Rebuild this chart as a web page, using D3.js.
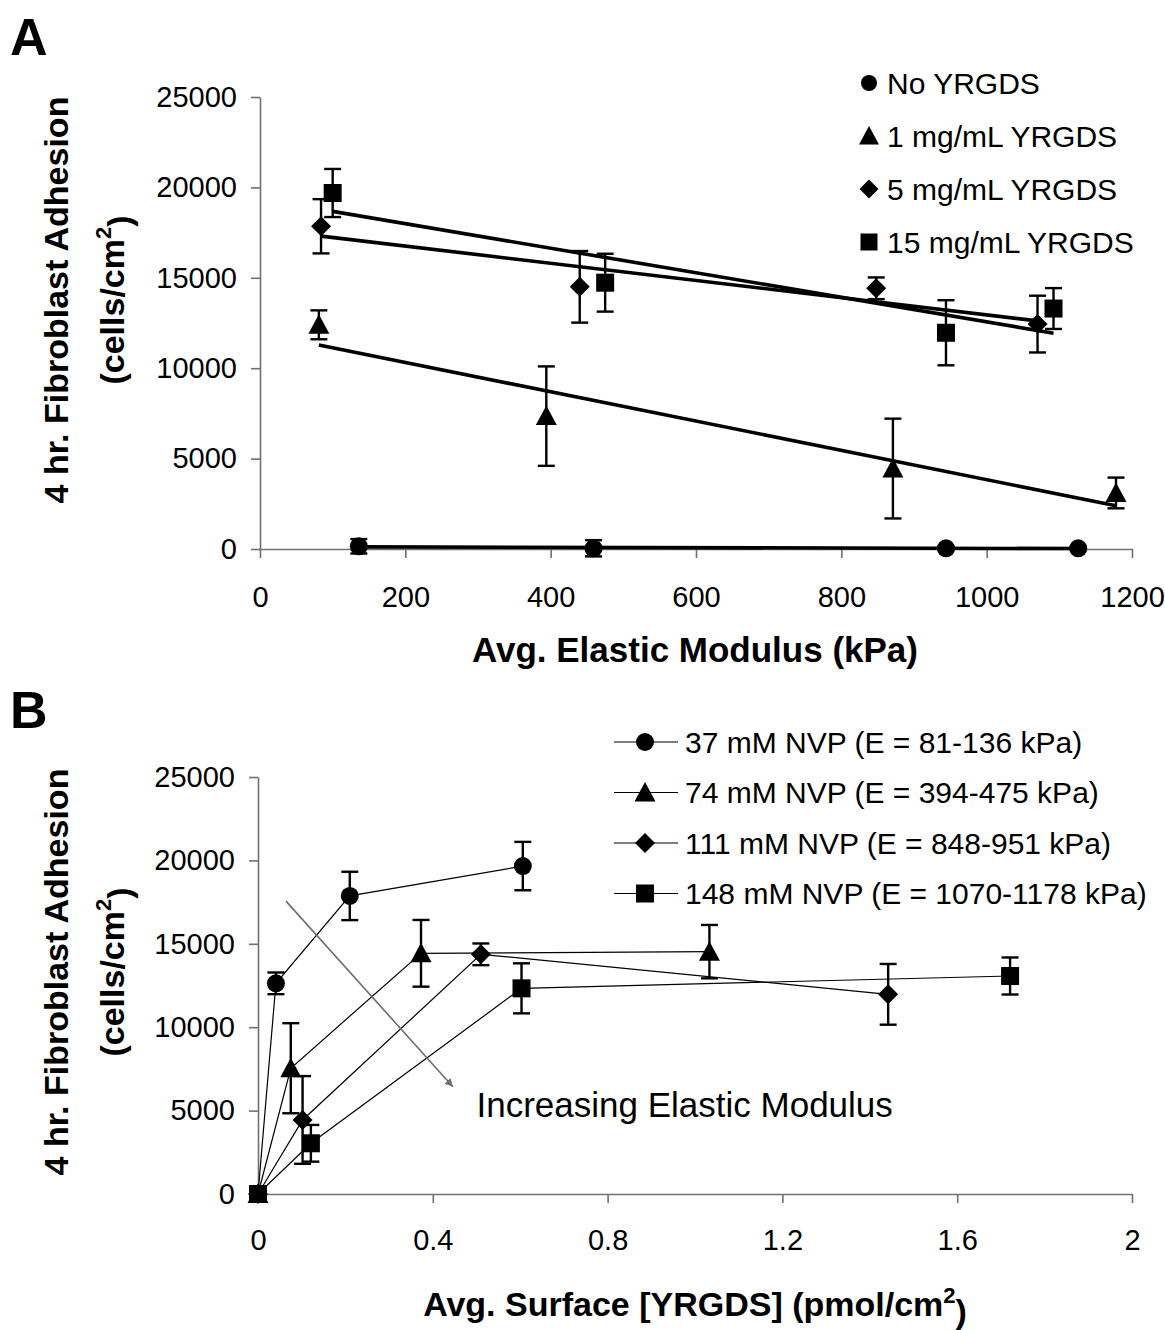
<!DOCTYPE html>
<html>
<head>
<meta charset="utf-8">
<script src="https://cdn.jsdelivr.net/npm/d3@7"></script>
<style>
  html, body { margin: 0; padding: 0; background: #fff; }
  svg { display: block; font-family: "Liberation Sans", Arial, sans-serif; }
</style>
</head>
<body>
<svg id="chart" width="1165" height="1330"></svg>
<script>
// ---------- Panel A data (x: elastic modulus kPa, y: cells/cm2, err: +/-) ----------
const aNames = ["No YRGDS", "1 mg/mL YRGDS", "5 mg/mL YRGDS", "15 mg/mL YRGDS"];
const aSymbols = ["circle", "triangle", "diamond", "square"];
const aCircleX = [136, 459, 944, 1126];
const aCircleY = [150, 40, 40, 40];
const aCircleErr = [400, 450, 100, 100];
const aTriX = [81, 394, 871, 1178];
const aTriY = [12400, 7350, 4450, 3100];
const aTriErr = [800, 2750, 2760, 850];
const aDiaX = [84, 440, 848, 1070];
const aDiaY = [17850, 14500, 14420, 12440];
const aDiaErr = [1500, 1980, 600, 1570];
const aSqX = [100, 475, 944, 1092];
const aSqY = [19690, 14730, 11960, 13300];
const aSqErr = [1330, 1600, 1800, 1130];
const aXTicks = [0, 200, 400, 600, 800, 1000, 1200];
const yTicks = [0, 5000, 10000, 15000, 20000, 25000];

// ---------- Panel B data (x: surface YRGDS pmol/cm2) ----------
const bNames = ["37 mM NVP (E = 81-136 kPa)", "74 mM NVP (E = 394-475 kPa)",
                "111 mM NVP (E = 848-951 kPa)", "148 mM NVP (E = 1070-1178 kPa)"];
const bSymbols = ["circle", "triangle", "diamond", "square"];
const bCircX = [0, 0.041, 0.21, 0.606];
const bCircY = [0, 12630, 17870, 19660];
const bCircErr = [0, 650, 1450, 1450];
const bTriX = [0, 0.075, 0.373, 1.033];
const bTriY = [0, 7540, 14430, 14530];
const bTriErr = [0, 2700, 2000, 1600];
const bDiaX = [0, 0.102, 0.51, 1.442];
const bDiaY = [0, 4440, 14370, 11970];
const bDiaErr = [0, 2630, 650, 1820];
const bSqX = [0, 0.121, 0.603, 1.721];
const bSqY = [0, 3040, 12330, 13070];
const bSqErr = [0, 1100, 1500, 1110];
const bXTicks = [0, 0.4, 0.8, 1.2, 1.6, 2];
const bXTickLabels = ["0", "0.4", "0.8", "1.2", "1.6", "2"];
// annotation arrow (data coordinates of panel B)
const arrowFrom = [0.064, 17560];
const arrowTo = [0.446, 6430];
const arrowText = "Increasing Elastic Modulus";
const arrowTextPos = [0.50, 4600];

const svg = d3.select("#chart");
const AX = "#707070";

function zip(xs, ys, es) { return xs.map((x, i) => ({x, y: ys[i], e: es[i]})); }
const aSeries = [zip(aCircleX, aCircleY, aCircleErr), zip(aTriX, aTriY, aTriErr),
                 zip(aDiaX, aDiaY, aDiaErr), zip(aSqX, aSqY, aSqErr)];
const bSeries = [zip(bCircX, bCircY, bCircErr), zip(bTriX, bTriY, bTriErr),
                 zip(bDiaX, bDiaY, bDiaErr), zip(bSqX, bSqY, bSqErr)];

function marker(g, type, cx, cy, s) {
  let m;
  if (type === "circle") m = g.append("circle").attr("cx", cx).attr("cy", cy).attr("r", s / 2);
  else if (type === "square") m = g.append("rect").attr("x", cx - s / 2).attr("y", cy - s / 2).attr("width", s).attr("height", s);
  else if (type === "diamond") {
    const h = s / 2 + 1;
    m = g.append("path").attr("d", `M${cx},${cy - h}L${cx + h},${cy}L${cx},${cy + h}L${cx - h},${cy}Z`);
  } else {
    const w = s / 2 + 1.5, h = s * 0.5;
    m = g.append("path").attr("d", `M${cx},${cy - h - 1.5}L${cx + w},${cy + h}L${cx - w},${cy + h}Z`);
  }
  m.attr("fill", "#000");
}

function styleAxis(g) {
  g.selectAll(".domain").attr("stroke", AX).attr("stroke-width", 1.6);
  g.selectAll(".tick line").attr("stroke", AX).attr("stroke-width", 1.6);
  g.selectAll(".tick text").attr("fill", "#000").style("font-size", "29px");
}

function errorBars(g, data, x, y, cap) {
  data.filter(d => d.e > 0).forEach(d => {
    const px = x(d.x), top = y(d.y + d.e), bot = y(d.y - d.e);
    g.append("line").attr("x1", px).attr("x2", px).attr("y1", top).attr("y2", bot)
      .attr("stroke", "#000").attr("stroke-width", 2.4);
    [top, bot].forEach(yy => g.append("line").attr("x1", px - cap / 2).attr("x2", px + cap / 2)
      .attr("y1", yy).attr("y2", yy).attr("stroke", "#000").attr("stroke-width", 2.4));
  });
}

function linReg(data) {
  const mx = d3.mean(data, d => d.x), my = d3.mean(data, d => d.y);
  let sxy = 0, sxx = 0;
  data.forEach(d => { sxy += (d.x - mx) * (d.y - my); sxx += (d.x - mx) ** 2; });
  const b = sxy / sxx, a = my - b * mx;
  return v => a + b * v;
}

// ================= Panel A =================
const xA = d3.scaleLinear().domain([0, 1200]).range([260, 1132]);
const yA = d3.scaleLinear().domain([0, 25000]).range([549, 97]);
const gA = svg.append("g");

gA.append("g").attr("transform", `translate(0,${yA(0)})`)
  .call(d3.axisBottom(xA).tickValues(aXTicks).tickSize(9).tickSizeOuter(0).tickPadding(28).tickFormat(d3.format("d")))
  .call(styleAxis);
gA.append("g").attr("transform", `translate(${xA(0)},0)`)
  .call(d3.axisLeft(yA).tickValues(yTicks).tickSize(9).tickSizeOuter(0).tickPadding(14).tickFormat(d3.format("d")))
  .call(styleAxis);

// trend lines (linear fits of each series)
aSeries.forEach(s => {
  const f = linReg(s), x0 = d3.min(s, d => d.x), x1 = d3.max(s, d => d.x);
  gA.append("line").attr("x1", xA(x0)).attr("y1", yA(f(x0))).attr("x2", xA(x1)).attr("y2", yA(f(x1)))
    .attr("stroke", "#000").attr("stroke-width", 3.6);
});
aSeries.forEach((s, i) => {
  errorBars(gA, s, xA, yA, 17);
  s.forEach(d => marker(gA, aSymbols[i], xA(d.x), yA(d.y), 18));
});

// legend A
aNames.forEach((nm, i) => {
  const yy = 83 + i * 53;
  marker(gA, aSymbols[i], 869, yy, i === 0 ? 16 : 17);
  gA.append("text").attr("x", 887).attr("y", yy).attr("dy", "0.36em")
    .style("font-size", "30px").text(nm);
});

// titles A
gA.append("text").attr("x", 695).attr("y", 662).attr("text-anchor", "middle")
  .style("font-size", "35px").style("font-weight", "bold").text("Avg. Elastic Modulus (kPa)");
function yTitle(g, cy) {
  g.append("text").attr("transform", `translate(68,${cy}) rotate(-90)`).attr("text-anchor", "middle")
    .style("font-size", "34px").style("font-weight", "bold").text("4 hr. Fibroblast Adhesion");
  const t = g.append("text").attr("transform", `translate(124,${cy}) rotate(-90)`).attr("text-anchor", "middle")
    .style("font-size", "34px").style("font-weight", "bold");
  t.append("tspan").text("(cells/cm");
  t.append("tspan").attr("dy", "-0.6em").style("font-size", "22px").text("2");
  t.append("tspan").attr("dy", "0.6em").text(")");
}
yTitle(gA, 300);
gA.append("text").attr("x", 10).attr("y", 55).style("font-size", "52px").style("font-weight", "bold").text("A");

// ================= Panel B =================
const xB = d3.scaleLinear().domain([0, 2]).range([258, 1132]);
const yB = d3.scaleLinear().domain([0, 25000]).range([1194, 777]);
const gB = svg.append("g");

gB.append("g").attr("transform", `translate(0,${yB(0)})`)
  .call(d3.axisBottom(xB).tickValues(bXTicks).tickSize(9).tickSizeOuter(0).tickPadding(26)
    .tickFormat((d, i) => bXTickLabels[i]))
  .call(styleAxis);
gB.append("g").attr("transform", `translate(${xB(0)},0)`)
  .call(d3.axisLeft(yB).tickValues(yTicks).tickSize(9).tickSizeOuter(0).tickPadding(14).tickFormat(d3.format("d")))
  .call(styleAxis);

const lineB = d3.line().x(d => xB(d.x)).y(d => yB(d.y));
bSeries.forEach(s => {
  gB.append("path").datum(s).attr("d", lineB).attr("fill", "none").attr("stroke", "#000").attr("stroke-width", 1.2);
});

// arrow annotation
svg.append("defs").append("marker").attr("id", "arr").attr("viewBox", "0 0 10 10")
  .attr("refX", 10).attr("refY", 5).attr("markerWidth", 8).attr("markerHeight", 8)
  .attr("markerUnits", "userSpaceOnUse").attr("orient", "auto")
  .append("path").attr("d", "M0,0L10,5L0,10Z").attr("fill", "#6e6e6e");
gB.append("line").attr("x1", xB(arrowFrom[0])).attr("y1", yB(arrowFrom[1]))
  .attr("x2", xB(arrowTo[0])).attr("y2", yB(arrowTo[1]))
  .attr("stroke", "#6e6e6e").attr("stroke-width", 1.6).attr("marker-end", "url(#arr)");
gB.append("text").attr("x", xB(arrowTextPos[0])).attr("y", yB(arrowTextPos[1]))
  .style("font-size", "35px").text(arrowText);

bSeries.forEach((s, i) => {
  errorBars(gB, s, xB, yB, 17);
  s.forEach(d => marker(gB, bSymbols[i], xB(d.x), yB(d.y), 18));
});

// legend B
bNames.forEach((nm, i) => {
  const yy = 742 + i * 50.5;
  gB.append("line").attr("x1", 614).attr("x2", 678).attr("y1", yy).attr("y2", yy)
    .attr("stroke", "#000").attr("stroke-width", 1.2);
  marker(gB, bSymbols[i], 645, yy, 18);
  gB.append("text").attr("x", 685).attr("y", yy).attr("dy", "0.36em")
    .style("font-size", "30px").text(nm);
});

// titles B
const bt = gB.append("text").attr("x", 695).attr("y", 1316).attr("text-anchor", "middle")
  .style("font-size", "34px").style("font-weight", "bold");
bt.append("tspan").text("Avg. Surface [YRGDS] (pmol/cm");
bt.append("tspan").attr("dy", "-0.6em").style("font-size", "22px").text("2");
bt.append("tspan").attr("dy", "0.6em").text(")");
yTitle(gB, 972);
gB.append("text").attr("x", 10).attr("y", 728).style("font-size", "52px").style("font-weight", "bold").text("B");
</script>
</body>
</html>
